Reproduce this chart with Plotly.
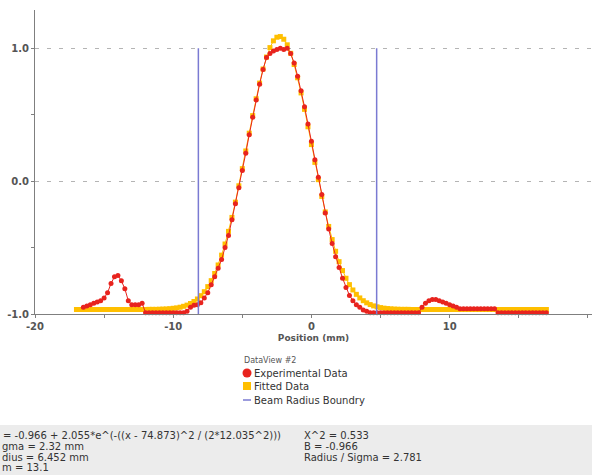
import plotly.graph_objects as go

# ---------------- data ----------------
position_mm = [
    -17.0, -16.75, -16.5, -16.25, -16.0, -15.75, -15.5, -15.25,
    -15.0, -14.75, -14.5, -14.25, -14.0, -13.75, -13.5, -13.25,
    -13.0, -12.75, -12.5, -12.25, -12.0, -11.75, -11.5, -11.25,
    -11.0, -10.75, -10.5, -10.25, -10.0, -9.75, -9.5, -9.25,
    -9.0, -8.75, -8.5, -8.25, -8.0, -7.75, -7.5, -7.25,
    -7.0, -6.75, -6.5, -6.25, -6.0, -5.75, -5.5, -5.25,
    -5.0, -4.75, -4.5, -4.25, -4.0, -3.75, -3.5, -3.25,
    -3.0, -2.75, -2.5, -2.25, -2.0, -1.75, -1.5, -1.25,
    -1.0, -0.75, -0.5, -0.25, 0.0, 0.25, 0.5, 0.75,
    1.0, 1.25, 1.5, 1.75, 2.0, 2.25, 2.5, 2.75,
    3.0, 3.25, 3.5, 3.75, 4.0, 4.25, 4.5, 4.75,
    5.0, 5.25, 5.5, 5.75, 6.0, 6.25, 6.5, 6.75,
    7.0, 7.25, 7.5, 7.75, 8.0, 8.25, 8.5, 8.75,
    9.0, 9.25, 9.5, 9.75, 10.0, 10.25, 10.5, 10.75,
    11.0, 11.25, 11.5, 11.75, 12.0, 12.25, 12.5, 12.75,
    13.0, 13.25, 13.5, 13.75, 14.0, 14.25, 14.5, 14.75,
    15.0, 15.25, 15.5, 15.75, 16.0, 16.25, 16.5, 16.75,
    17.0,
]

fitted_data = [
    -0.966, -0.966, -0.966, -0.966, -0.966, -0.966, -0.966, -0.966,
    -0.966, -0.966, -0.966, -0.966, -0.966, -0.966, -0.966, -0.966,
    -0.966, -0.966, -0.966, -0.966, -0.966, -0.965, -0.965, -0.965,
    -0.964, -0.963, -0.962, -0.960, -0.957, -0.954, -0.949, -0.942,
    -0.933, -0.921, -0.906, -0.887, -0.862, -0.832, -0.794, -0.749,
    -0.695, -0.631, -0.557, -0.473, -0.378, -0.273, -0.158, -0.035,
    0.094, 0.227, 0.361, 0.493, 0.620, 0.738, 0.844, 0.934,
    1.005, 1.056, 1.083, 1.088, 1.068, 1.026, 0.962, 0.878,
    0.778, 0.664, 0.540, 0.409, 0.275, 0.141, 0.011, -0.115,
    -0.232, -0.341, -0.440, -0.528, -0.606, -0.673, -0.731, -0.779,
    -0.819, -0.852, -0.879, -0.900, -0.916, -0.929, -0.939, -0.946,
    -0.952, -0.956, -0.959, -0.961, -0.963, -0.964, -0.965, -0.965,
    -0.965, -0.966, -0.966, -0.966, -0.966, -0.966, -0.966, -0.966,
    -0.966, -0.966, -0.966, -0.966, -0.966, -0.966, -0.966, -0.966,
    -0.966, -0.966, -0.966, -0.966, -0.966, -0.966, -0.966, -0.966,
    -0.966, -0.966, -0.966, -0.966, -0.966, -0.966, -0.966, -0.966,
    -0.966, -0.966, -0.966, -0.966, -0.966, -0.966, -0.966, -0.966,
    -0.966,
]

experimental_data = [
    None, None, -0.95, -0.94, -0.93, -0.92, -0.91, -0.90,
    -0.88, -0.84, -0.77, -0.72, -0.71, -0.75, -0.81, -0.90,
    -0.93, -0.93, -0.93, -0.92, -0.99, -0.99, -0.99, -0.99,
    -0.99, -0.99, -0.99, -0.99, -0.99, -0.99, -0.99, -0.99,
    -0.98, -0.95, -0.935, -0.93, -0.915, -0.88, -0.84, -0.78,
    -0.72, -0.655, -0.59, -0.50, -0.41, -0.29, -0.17, -0.05,
    0.08, 0.21, 0.35, 0.48, 0.61, 0.73, 0.84, 0.93,
    0.96, 0.98, 0.99, 1.00, 0.99, 1.00, 0.96, 0.89,
    0.79, 0.68, 0.56, 0.43, 0.30, 0.16, 0.03, -0.10,
    -0.24, -0.36, -0.47, -0.57, -0.65, -0.73, -0.80, -0.86,
    -0.90, -0.93, -0.95, -0.97, -0.98, -0.99, -0.99, -0.99,
    -0.99, -0.99, -0.99, -0.99, -0.99, -0.99, -0.99, -0.99,
    -0.99, -0.99, -0.99, -0.99, -0.95, -0.92, -0.90, -0.89,
    -0.89, -0.90, -0.91, -0.92, -0.93, -0.94, -0.95, -0.96,
    -0.96, -0.96, -0.96, -0.96, -0.96, -0.96, -0.96, -0.96,
    -0.96, -0.96, -0.99, -0.99, -0.99, -0.99, -0.99, -0.99,
    -0.99, -0.99, -0.99, -0.99, -0.99, -0.99, -0.99, -0.99,
    -0.99,
]

boundary_mm = [-8.18, 4.72]
boundary_span = [-1.0, 1.0]

x_ticks = [-20, -10, 0, 10, 20]
x_tick_labels = ["-20", "-10", "0", "10", "20"]
y_ticks = [-1.0, 0.0, 1.0]
y_tick_labels = ["-1.0", "0.0", "1.0"]

legend_title = "DataView #2"
series_names = ["Experimental Data", "Fitted Data", "Beam Radius Boundry"]
# visible parts of the info panel (the panel is cut at the window's left edge)
fit_info_left = [
    "= -0.966 + 2.055*e^(-((x - 74.873)^2 / (2*12.035^2)))",
    "gma = 2.32 mm",
    "dius = 6.452 mm",
    "m = 13.1",
]
fit_info_right = ["X^2 = 0.533", "B = -0.966", "Radius / Sigma = 2.781"]

# ---------------- styling ----------------
RED = "#e8231e"
YELLOW = "#ffbf00"
BLUE = "#7a7ad2"
FONT = "DejaVu Sans"

W, H = 592, 475
L, R, T, B = 35, 0, 10, 161
PW, PH = W - L - R, H - T - B


def px(x):
    return (x - L) / PW


def py(y):
    return (H - B - y) / PH


assert len(position_mm) == len(fitted_data) == len(experimental_data)

fig = go.Figure()

fig.add_trace(go.Scatter(
    x=position_mm, y=fitted_data, mode="lines+markers", name=series_names[1],
    line=dict(color=YELLOW, width=1),
    marker=dict(symbol="square", size=5, color=YELLOW),
    cliponaxis=False,
))
fig.add_trace(go.Scatter(
    x=position_mm, y=experimental_data, mode="lines+markers", name=series_names[0],
    line=dict(color=RED, width=1),
    marker=dict(symbol="circle", size=5, color=RED),
    connectgaps=False, cliponaxis=False,
))
bx, by = [], []
for b in boundary_mm:
    bx += [b, b, None]
    by += [boundary_span[0], boundary_span[1], None]
fig.add_trace(go.Scatter(
    x=bx, y=by, mode="lines", name=series_names[2],
    line=dict(color=BLUE, width=1.5),
))

axis_col = "#7f7f7f"
tick_font = dict(family=FONT, size=10, color="#555555", weight="bold")

fig.update_xaxes(
    range=[-20, 20.3], tickvals=x_ticks, ticktext=x_tick_labels,
    showline=True, linecolor=axis_col, linewidth=1,
    ticks="outside", ticklen=3, tickcolor=axis_col,
    minor=dict(ticks="outside", ticklen=3, dtick=5, tick0=0, tickcolor=axis_col),
    showgrid=False, zeroline=False, tickfont=tick_font,
    title=dict(text="Position (mm)", font=dict(family=FONT, size=9, color="#555555", weight="bold"),
               standoff=3),
)
fig.update_yaxes(
    range=[-1.0, 1.288], tickvals=y_ticks, ticktext=y_tick_labels,
    showline=True, linecolor=axis_col, linewidth=1,
    ticks="outside", ticklen=3, tickcolor=axis_col,
    minor=dict(ticks="outside", ticklen=3, dtick=0.5, tick0=0, tickcolor=axis_col),
    showgrid=True, gridcolor="#b4b4b4", gridwidth=1, griddash="4px,8px",
    zeroline=False, tickfont=tick_font,
)

shapes = []
annotations = []

# bottom info panel
shapes.append(dict(type="rect", xref="paper", yref="paper",
                   x0=px(-5), x1=px(W + 5), y0=py(425), y1=py(H + 5),
                   fillcolor="#ececec", line=dict(width=0), layer="below"))

# custom legend
annotations.append(dict(xref="paper", yref="paper", x=px(242), y=py(360),
                        xanchor="left", yanchor="middle", showarrow=False,
                        text=legend_title,
                        font=dict(family=FONT, size=8, color="#555555")))
shapes.append(dict(type="circle", xref="paper", yref="paper",
                   x0=px(242.5), x1=px(251.5), y0=py(377.5), y1=py(368.5),
                   fillcolor=RED, line=dict(width=0)))
shapes.append(dict(type="rect", xref="paper", yref="paper",
                   x0=px(243), x1=px(251), y0=py(390), y1=py(382),
                   fillcolor=YELLOW, line=dict(width=0)))
shapes.append(dict(type="line", xref="paper", yref="paper",
                   x0=px(243), x1=px(251), y0=py(400), y1=py(400),
                   line=dict(color=BLUE, width=1.5)))
for name, yy in zip(series_names, [373, 386, 400]):
    annotations.append(dict(xref="paper", yref="paper", x=px(252), y=py(yy),
                            xanchor="left", yanchor="middle", showarrow=False,
                            text=name, font=dict(family=FONT, size=10, color="#333333")))

# info text
for txt, xx, yy in zip(fit_info_left, [1, 0, 0, 0], [435, 446, 457, 467.5]):
    annotations.append(dict(xref="paper", yref="paper", x=px(xx), y=py(yy),
                            xanchor="left", yanchor="middle", showarrow=False,
                            text=txt, font=dict(family=FONT, size=10, color="#333333")))
for txt, yy in zip(fit_info_right, [435, 446, 457]):
    annotations.append(dict(xref="paper", yref="paper", x=px(302), y=py(yy),
                            xanchor="left", yanchor="middle", showarrow=False,
                            text=txt, font=dict(family=FONT, size=10, color="#333333")))

fig.update_layout(
    width=W, height=H,
    margin=dict(l=L, r=R, t=T, b=B, pad=0),
    plot_bgcolor="white", paper_bgcolor="white",
    showlegend=False,
    font=dict(family=FONT, size=9, color="#333333"),
    shapes=shapes, annotations=annotations,
)

fig.write_html("out.html", config={"displayModeBar": False},
               post_script="document.body.style.margin='0';")
